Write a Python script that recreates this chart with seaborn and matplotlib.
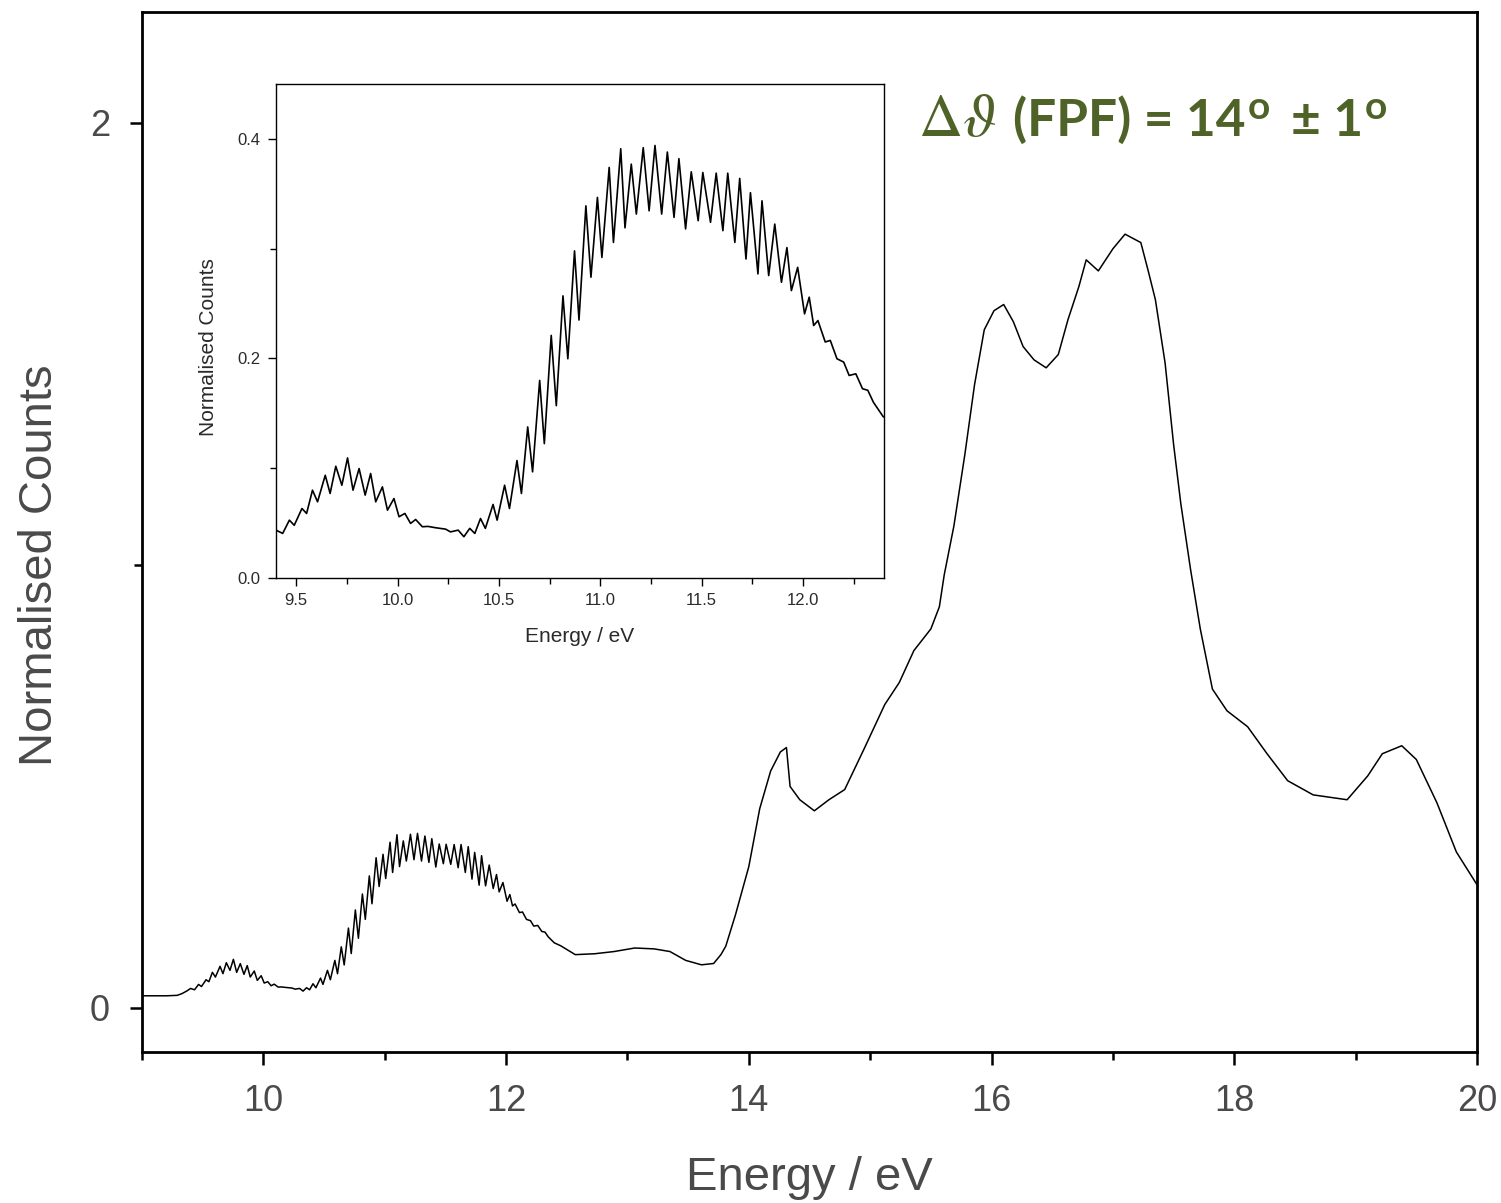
import numpy as np
import pandas as pd
import seaborn as sns
import matplotlib
matplotlib.use("Agg")
import matplotlib.pyplot as plt
from matplotlib.ticker import MultipleLocator, FixedLocator, FormatStrFormatter

# ---------------- data ----------------
low_energy = [9.00, 9.10, 9.20, 9.29, 9.33, 9.37]
low_counts = [0.027, 0.027, 0.027, 0.028, 0.032, 0.038]

inset_energy = [9.400, 9.433, 9.466, 9.490, 9.528, 9.551, 9.580, 9.605, 9.643, 9.667,
                9.695, 9.725, 9.753, 9.780, 9.810, 9.840, 9.867, 9.892, 9.925, 9.950,
                9.982, 10.007, 10.036, 10.064, 10.089, 10.122, 10.150, 10.187, 10.237, 10.261,
                10.299, 10.327, 10.356, 10.381, 10.409, 10.433, 10.471, 10.491, 10.528, 10.552,
                10.589, 10.611, 10.642, 10.666, 10.701, 10.724, 10.758, 10.783, 10.816, 10.840,
                10.873, 10.895, 10.929, 10.954, 10.986, 11.008, 11.044, 11.065, 11.101, 11.122,
                11.153, 11.178, 11.212, 11.241, 11.270, 11.303, 11.331, 11.364, 11.388, 11.421,
                11.449, 11.483, 11.506, 11.544, 11.572, 11.605, 11.629, 11.664, 11.688, 11.719,
                11.741, 11.778, 11.798, 11.831, 11.861, 11.894, 11.921, 11.943, 11.974, 12.008,
                12.031, 12.053, 12.074, 12.110, 12.135, 12.168, 12.201, 12.228, 12.261, 12.294,
                12.320, 12.348, 12.397]
inset_counts = [0.0436, 0.0406, 0.0527, 0.0480, 0.0633, 0.0588, 0.0800, 0.0694, 0.0936, 0.0770,
                0.1018, 0.0845, 0.1094, 0.0800, 0.0997, 0.0755, 0.0952, 0.0694, 0.0830, 0.0618,
                0.0724, 0.0558, 0.0588, 0.0497, 0.0533, 0.0467, 0.0470, 0.0458, 0.0445, 0.0420,
                0.0436, 0.0376, 0.0452, 0.0406, 0.0542, 0.0452, 0.0670, 0.0527, 0.0845, 0.0633,
                0.1070, 0.0770, 0.1376, 0.0967, 0.1800, 0.1224, 0.2210, 0.1570, 0.2570, 0.1997,
                0.2980, 0.2350, 0.3390, 0.2740, 0.3467, 0.2920, 0.3740, 0.3057, 0.3910, 0.3190,
                0.3770, 0.3315, 0.3920, 0.3345, 0.3940, 0.3315, 0.3880, 0.3285, 0.3820, 0.3180,
                0.3700, 0.3255, 0.3694, 0.3240, 0.3688, 0.3164, 0.3688, 0.3057, 0.3640, 0.2906,
                0.3510, 0.2770, 0.3436, 0.2755, 0.3224, 0.2694, 0.3010, 0.2618, 0.2830, 0.2406,
                0.2558, 0.2300, 0.2345, 0.2150, 0.2164, 0.1997, 0.1967, 0.1845, 0.1860, 0.1724,
                0.1710, 0.1600, 0.1467]

high_energy = [12.45, 12.57, 12.73, 12.89, 13.06, 13.22, 13.35, 13.48, 13.61, 13.71,
               13.77, 13.81, 13.89, 14.00, 14.09, 14.18, 14.26, 14.31, 14.34, 14.42,
               14.54, 14.66, 14.79, 14.95, 15.12, 15.24, 15.36, 15.50, 15.57, 15.61,
               15.69, 15.78, 15.86, 15.94, 16.02, 16.10, 16.18, 16.26, 16.35, 16.45,
               16.55, 16.63, 16.72, 16.78, 16.88, 17.00, 17.10, 17.23, 17.29, 17.35,
               17.43, 17.50, 17.56, 17.64, 17.72, 17.82, 17.94, 18.11, 18.27, 18.44,
               18.65, 18.93, 19.10, 19.22, 19.38, 19.50, 19.67, 19.83, 20.00]
high_counts = [0.140, 0.120, 0.122, 0.127, 0.135, 0.133, 0.127, 0.107, 0.097, 0.100,
               0.120, 0.139, 0.210, 0.319, 0.450, 0.535, 0.578, 0.588, 0.500, 0.470,
               0.445, 0.470, 0.493, 0.585, 0.685, 0.735, 0.807, 0.856, 0.906, 0.978,
               1.089, 1.250, 1.408, 1.532, 1.575, 1.589, 1.550, 1.494, 1.464, 1.446,
               1.476, 1.555, 1.630, 1.690, 1.665, 1.715, 1.748, 1.729, 1.666, 1.600,
               1.457, 1.273, 1.138, 0.990, 0.856, 0.720, 0.671, 0.635, 0.574, 0.513,
               0.481, 0.470, 0.524, 0.574, 0.592, 0.561, 0.463, 0.352, 0.278]

main_xticks = [10, 12, 14, 16, 18, 20]
main_yticks = [0, 2]
inset_xticks = [9.5, 10.0, 10.5, 11.0, 11.5, 12.0]
inset_yticks = [0.0, 0.2, 0.4]
annotation_parts = ["(FPF) = 14", "o", "\u00b1 1", "o"]

main_df = pd.DataFrame({"Energy": low_energy + inset_energy + high_energy,
                        "Counts": low_counts + inset_counts + high_counts})
inset_df = pd.DataFrame({"Energy": inset_energy, "Counts": inset_counts})

# ---------------- style ----------------
sns.set_style("ticks")
plt.rcParams["font.family"] = ["Liberation Sans", "DejaVu Sans"]

W, H = 1501, 1203
fig = plt.figure(figsize=(W / 100, H / 100), dpi=100)

def px_rect(x0, y0, x1, y1):
    return [x0 / W, 1 - y1 / H, (x1 - x0) / W, (y1 - y0) / H]

# ---------------- main axes ----------------
ax = fig.add_axes(px_rect(142, 12, 1477, 1052))
sns.lineplot(data=main_df, x="Energy", y="Counts", ax=ax, color="black",
             linewidth=1.1, estimator=None, sort=False)
ax.set_xlim(9, 20)
ax.set_ylim(-0.1, 2.25)
ax.xaxis.set_major_locator(FixedLocator(main_xticks))
ax.xaxis.set_minor_locator(MultipleLocator(1))
ax.yaxis.set_major_locator(FixedLocator(main_yticks))
ax.yaxis.set_minor_locator(MultipleLocator(1))
ax.xaxis.set_major_formatter(FormatStrFormatter("%d"))
ax.yaxis.set_major_formatter(FormatStrFormatter("%d"))
for s in ax.spines.values():
    s.set_linewidth(2.0)
    s.set_color("black")
ax.tick_params(axis="both", which="major", direction="out", length=9, width=1.8,
               labelsize=26, labelcolor="#4a4a4a", color="black")
ax.tick_params(axis="both", which="minor", direction="out", length=6, width=1.8,
               color="black")
ax.tick_params(axis="x", which="major", pad=14)
ax.tick_params(axis="y", which="major", pad=14)
ax.set_xlabel("Energy / eV", fontsize=34, color="#4a4a4a")
ax.set_ylabel("Normalised Counts", fontsize=34, color="#4a4a4a")
ax.xaxis.set_label_coords(0.5, -0.10)
ax.yaxis.set_label_coords(-0.06, 0.468)

# ---------------- inset ----------------
axi = fig.add_axes(px_rect(276, 84, 884, 578))
sns.lineplot(data=inset_df, x="Energy", y="Counts", ax=axi, color="black",
             linewidth=1.2, estimator=None, sort=False)
axi.set_xlim(9.4, 12.4)
axi.set_ylim(0.0, 0.45)
axi.xaxis.set_major_locator(FixedLocator(inset_xticks))
axi.xaxis.set_minor_locator(MultipleLocator(0.25))
axi.yaxis.set_major_locator(FixedLocator(inset_yticks))
axi.yaxis.set_minor_locator(MultipleLocator(0.1))
axi.xaxis.set_major_formatter(FormatStrFormatter("%.1f"))
axi.yaxis.set_major_formatter(FormatStrFormatter("%.1f"))
for s in axi.spines.values():
    s.set_linewidth(1.0)
    s.set_color("black")
axi.tick_params(axis="both", which="major", direction="out", length=6, width=1.0,
                labelsize=12, labelcolor="#2a2a2a", color="black", pad=5)
axi.tick_params(axis="both", which="minor", direction="out", length=4, width=1.0,
                color="black")
axi.set_xlabel("Energy / eV", fontsize=15, color="#2a2a2a")
axi.set_ylabel("Normalised Counts", fontsize=15, color="#2a2a2a")
axi.xaxis.set_label_coords(0.5, -0.10)
axi.yaxis.set_label_coords(-0.095, 0.468)

# ---------------- annotation ----------------
green = "#4f6228"
def fx(x):
    return x / W
def fy(y):
    return 1 - y / H

big = 37
small = 28
fig.text(fx(918), fy(136), r"$\Delta\vartheta$", math_fontfamily="stix",
         fontsize=44, color=green, va="baseline", ha="left")
t_fpf = fig.text(fx(1013), fy(136), annotation_parts[0], family="Lato", weight="bold",
                 fontsize=big, color=green, va="baseline", ha="left")
o1 = plt.annotate(annotation_parts[1], xy=(1, 0), xycoords=t_fpf,
                  xytext=(1.5, 14.5), textcoords="offset points",
                  family="Lato", weight="bold", fontsize=small, color=green,
                  va="bottom", ha="left", annotation_clip=False)
pm = plt.annotate(annotation_parts[2], xy=(1, 0), xycoords=(o1, t_fpf),
                  xytext=(15, 0), textcoords="offset points",
                  family="Lato", weight="bold", fontsize=big, color=green,
                  va="bottom", ha="left", annotation_clip=False)
o2 = plt.annotate(annotation_parts[3], xy=(1, 0), xycoords=pm,
                  xytext=(1.5, 14.5), textcoords="offset points",
                  family="Lato", weight="bold", fontsize=small, color=green,
                  va="bottom", ha="left", annotation_clip=False)

fig.savefig("out.png", dpi=100)
